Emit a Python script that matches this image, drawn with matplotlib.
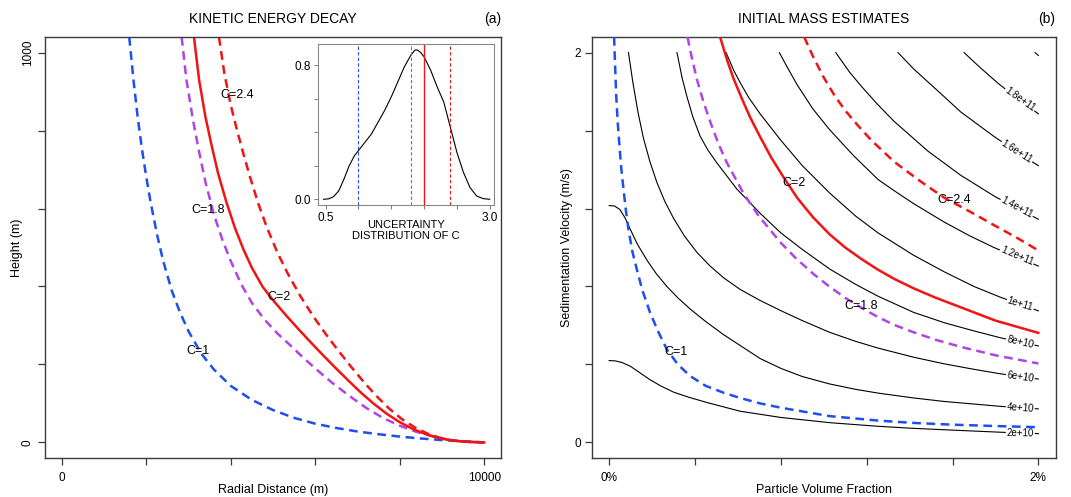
import matplotlib
matplotlib.use("Agg")
import matplotlib.pyplot as plt

plt.rcParams['font.family'] = ['Liberation Sans', 'DejaVu Sans']

# ---------------- data: panel (a) kinetic energy decay ----------------
ke_c1_x = [1595, 1700, 1800, 1900, 2000, 2100, 2250, 2400, 2600, 2800, 3000, 3300, 3600, 4000,
           4500, 5000, 5500, 6000, 6500, 7000, 7500, 8000, 8500, 9000, 9500, 10000]
ke_c1_y = [1040, 925, 830, 750, 680, 617, 535, 465, 390, 333, 285, 228, 187, 145,
           109, 83, 63, 48, 37, 28, 21, 15, 10, 6, 3, 0]
ke_c18_x = [2836, 2950, 3100, 3250, 3400, 3600, 3800, 4000, 4250, 4500, 4800, 5100, 5400, 5700,
            6000, 6400, 6800, 7200, 7600, 8000, 8400, 8800, 9200, 9600, 10000]
ke_c18_y = [1040, 930, 830, 745, 668, 585, 520, 465, 405, 358, 315, 280, 250, 219,
            190, 153, 120, 89, 63, 43, 27, 15, 6, 1.5, 0]
ke_c2_x = [3128, 3250, 3400, 3550, 3700, 3900, 4100, 4300, 4500, 4750, 5000, 5300, 5600, 5900,
           6200, 6500, 6800, 7100, 7400, 7700, 8000, 8300, 8600, 8900, 9200, 9500, 10000]
ke_c2_y = [1040, 930, 835, 760, 690, 615, 550, 495, 448, 400, 365, 327, 291, 256,
           222, 189, 157, 126, 98, 73, 52, 35, 22, 12, 5.5, 2, 0]
ke_c24_x = [3720, 3850, 4000, 4150, 4300, 4450, 4650, 4850, 5100, 5350, 5650, 5950, 6250, 6550,
            6850, 7150, 7450, 7750, 8050, 8350, 8650, 8950, 9250, 9600, 10000]
ke_c24_y = [1040, 945, 865, 800, 740, 683, 613, 553, 488, 433, 375, 324, 278, 235,
            194, 155, 119, 87, 60, 39, 23, 12, 5, 1.5, 0]

# inset: uncertainty distribution of C
dens_c = [0.47, 0.55, 0.62, 0.70, 0.78, 0.86, 0.94, 1.0, 1.1, 1.2, 1.3, 1.4, 1.5, 1.6, 1.7,
          1.8, 1.86, 1.9, 1.95, 2.0, 2.1, 2.2, 2.3, 2.4, 2.5, 2.6, 2.7, 2.8, 2.9, 3.0]
dens_y = [0.0, 0.003, 0.015, 0.05, 0.12, 0.2, 0.26, 0.29, 0.34, 0.39, 0.46, 0.53, 0.61, 0.70, 0.79,
          0.86, 0.89, 0.89, 0.875, 0.85, 0.77, 0.67, 0.58, 0.43, 0.28, 0.16, 0.07, 0.02, 0.004, 0.0]
c_values = [1.0, 1.8, 2.0, 2.4]

# ---------------- data: panel (b) initial mass estimates ----------------
# contour lines (x: particle volume fraction in %, y: sedimentation velocity m/s)
contour_levels = ["2e+10", "4e+10", "6e+10", "8e+10", "1e+11", "1.2e+11", "1.4e+11", "1.6e+11", "1.8e+11", "2e+11"]
cl_2e10_x = [0.0, 0.03, 0.06, 0.10, 0.15, 0.19, 0.24, 0.30, 0.37, 0.455, 0.61, 0.80, 1.03, 1.25, 1.42, 1.6, 1.83, 2.0]
cl_2e10_y = [0.42, 0.418, 0.41, 0.39, 0.352, 0.322, 0.29, 0.258, 0.232, 0.205, 0.160, 0.128, 0.101, 0.083, 0.072, 0.063, 0.052, 0.045]
cl_4e10_x = [0.0, 0.025, 0.05, 0.075, 0.10, 0.13, 0.176, 0.22, 0.269, 0.32, 0.378, 0.45, 0.533, 0.704, 0.80, 0.9,
             1.027, 1.15, 1.253, 1.419, 1.562, 1.823, 2.0]
cl_4e10_y = [1.215, 1.213, 1.195, 1.15, 1.09, 1.02, 0.935, 0.865, 0.80, 0.742, 0.684, 0.62, 0.553, 0.43, 0.38, 0.338,
             0.30, 0.272, 0.253, 0.228, 0.21, 0.185, 0.172]
cl_6e10_x = [0.09, 0.11, 0.135, 0.16, 0.19, 0.222, 0.26, 0.30, 0.35, 0.409, 0.47, 0.533, 0.61, 0.704, 0.80, 0.9,
             1.027, 1.15, 1.253, 1.419, 1.562, 1.7, 1.823, 2.0]
cl_6e10_y = [2.0, 1.85, 1.69, 1.56, 1.44, 1.335, 1.235, 1.15, 1.06, 0.975, 0.905, 0.845, 0.785, 0.728, 0.676, 0.625,
             0.565, 0.518, 0.484, 0.437, 0.403, 0.375, 0.352, 0.325]
cl_8e10_x = [0.316, 0.34, 0.362, 0.39, 0.424, 0.46, 0.502, 0.595, 0.704, 0.80, 0.9, 1.027, 1.15, 1.253, 1.419,
             1.562, 1.7, 1.823, 2.0]
cl_8e10_y = [2.0, 1.87, 1.776, 1.67, 1.571, 1.50, 1.434, 1.30, 1.175, 1.075, 0.99, 0.89, 0.81, 0.75, 0.667,
             0.614, 0.572, 0.537, 0.495]
cl_1e11_x = [0.545, 0.58, 0.611, 0.65, 0.704, 0.80, 0.9, 1.027, 1.15, 1.253, 1.419, 1.562, 1.7, 1.823, 2.0]
cl_1e11_y = [2.0, 1.91, 1.845, 1.77, 1.685, 1.55, 1.42, 1.28, 1.16, 1.075, 0.96, 0.875, 0.80, 0.745, 0.675]
cl_12e11_x = [0.793, 0.83, 0.876, 0.95, 1.027, 1.14, 1.253, 1.33, 1.419, 1.562, 1.68, 1.793, 2.0]
cl_12e11_y = [2.0, 1.925, 1.835, 1.71, 1.605, 1.47, 1.349, 1.29, 1.225, 1.13, 1.06, 1.0, 0.905]
cl_14e11_x = [1.056, 1.12, 1.177, 1.25, 1.33, 1.485, 1.639, 1.80, 2.0]
cl_14e11_y = [2.0, 1.90, 1.825, 1.735, 1.645, 1.495, 1.37, 1.26, 1.145]
cl_16e11_x = [1.346, 1.42, 1.485, 1.56, 1.639, 1.793, 1.9, 2.0]
cl_16e11_y = [2.0, 1.915, 1.85, 1.775, 1.695, 1.57, 1.49, 1.42]
cl_18e11_x = [1.654, 1.731, 1.815, 1.9, 2.0]
cl_18e11_y = [2.0, 1.921, 1.84, 1.766, 1.686]
cl_2e11_x = [1.985, 2.0]
cl_2e11_y = [2.0, 1.985]

# C curves
pm_c1_x = [0.023, 0.028, 0.033, 0.04, 0.048, 0.057, 0.067, 0.078, 0.09, 0.108, 0.129, 0.155, 0.191, 0.23, 0.269,
           0.32, 0.378, 0.45, 0.533, 0.61, 0.704, 0.80, 1.027, 1.253, 1.419, 1.6, 1.8, 2.0]
pm_c1_y = [2.08, 1.92, 1.776, 1.64, 1.52, 1.40, 1.297, 1.19, 1.092, 0.98, 0.887, 0.78, 0.665, 0.565, 0.477,
           0.40, 0.34, 0.29, 0.255, 0.228, 0.2, 0.178, 0.135, 0.112, 0.100, 0.091, 0.084, 0.078]
pm_c18_x = [0.365, 0.385, 0.409, 0.44, 0.471, 0.51, 0.549, 0.626, 0.696, 0.80, 0.87, 0.951, 1.02, 1.102, 1.18,
            1.253, 1.33, 1.419, 1.52, 1.639, 1.8, 2.0]
pm_c18_y = [2.08, 1.975, 1.862, 1.745, 1.645, 1.53, 1.434, 1.278, 1.163, 1.024, 0.945, 0.865, 0.805, 0.74, 0.688,
            0.643, 0.602, 0.565, 0.527, 0.49, 0.447, 0.405]
pm_c2_x = [0.517, 0.55, 0.58, 0.62, 0.657, 0.70, 0.755, 0.81, 0.876, 0.95, 1.027, 1.1, 1.177, 1.25, 1.33,
           1.42, 1.52, 1.639, 1.8, 2.0]
pm_c2_y = [2.08, 1.96, 1.865, 1.76, 1.668, 1.575, 1.462, 1.365, 1.255, 1.155, 1.068, 1.0, 0.94, 0.888, 0.838,
           0.79, 0.743, 0.693, 0.625, 0.562]
pm_c24_x = [0.909, 0.95, 0.996, 1.05, 1.102, 1.16, 1.222, 1.328, 1.45, 1.562, 1.68, 1.793, 1.9, 2.0]
pm_c24_y = [2.08, 1.98, 1.88, 1.78, 1.70, 1.625, 1.55, 1.44, 1.34, 1.255, 1.185, 1.115, 1.05, 0.985]

# ---------------- styling ----------------
BLUE = "#1f4ef0"
PURPLE = "#b044e6"
RED = "#f01414"
BOX = "#3a3a3a"
W, H = 1071, 497

fig = plt.figure(figsize=(W / 100, H / 100), dpi=100)


def px_axes(l, r, t, b):
    return [l / W, 1 - b / H, (r - l) / W, (b - t) / H]


def style_box(ax, color=BOX, lw=1.0):
    for s in ax.spines.values():
        s.set_color(color)
        s.set_linewidth(lw)


dash = (3.5, 2.2)
fs_c = 9

# ---------------- panel (a) ----------------
axa = fig.add_axes(px_axes(45, 501, 37, 458))
axa.set_xlim(-400, 10400)
axa.set_ylim(-40, 1040)
axa.plot(ke_c1_x, ke_c1_y, color=BLUE, lw=1.8, dashes=dash)
axa.plot(ke_c18_x, ke_c18_y, color=PURPLE, lw=1.8, dashes=dash)
axa.plot(ke_c2_x, ke_c2_y, color=RED, lw=1.8)
axa.plot(ke_c24_x, ke_c24_y, color=RED, lw=1.8, dashes=dash)
axa.text(4140, 890, "C=2.4", fontsize=fs_c, ha='center', va='center')
axa.text(3467, 596, "C=1.8", fontsize=fs_c, ha='center', va='center')
axa.text(5150, 374, "C=2", fontsize=fs_c, ha='center', va='center')
axa.text(3231, 234, "C=1", fontsize=fs_c, ha='center', va='center')
axa.set_xticks([0, 2000, 4000, 6000, 8000, 10000])
axa.set_xticklabels(["0", "", "", "", "", "10000"])
axa.set_yticks([0, 200, 400, 600, 800, 1000])
axa.set_yticklabels(["0", "", "", "", "", "1000"])
for lbl in axa.get_yticklabels():
    lbl.set_rotation(90)
    lbl.set_va('center')
axa.tick_params(direction='out', length=5, width=0.9, color=BOX, labelsize=8.5, pad=3)
axa.tick_params(axis='x', pad=5)
axa.set_xlabel("Radial Distance (m)", fontsize=9, labelpad=0)
axa.set_ylabel("Height (m)", fontsize=9, labelpad=-1)
axa.set_title("KINETIC ENERGY DECAY", fontsize=10, pad=10)
axa.text(1.0, 1.033, "(a)", transform=axa.transAxes, ha='right', va='baseline', fontsize=10)
style_box(axa)

# inset
axi = fig.add_axes(px_axes(318, 494, 44, 205))
axi.set_xlim(0.385, 3.065)
axi.set_ylim(-0.034, 0.926)
axi.plot(dens_c, dens_y, color='black', lw=0.8)
axi.axvline(c_values[0], color=BLUE, lw=0.8, dashes=(3, 2))
axi.axvline(c_values[1], color=PURPLE, lw=0.8, dashes=(3, 2))
axi.axvline(c_values[2], color=RED, lw=1.0)
axi.axvline(c_values[3], color=RED, lw=0.8, dashes=(3, 2))
axi.set_xticks([0.5, 1.0, 1.5, 2.0, 2.5, 3.0])
axi.set_xticklabels(["0.5", "", "", "", "", "3.0"])
axi.set_yticks([0.0, 0.2, 0.4, 0.6, 0.8])
axi.set_yticklabels(["0.0", "", "", "", "0.8"])
axi.tick_params(direction='out', length=3, width=0.7, color="#777777", labelsize=8.5, pad=2)
axi.set_xlabel("UNCERTAINTY\nDISTRIBUTION OF C", fontsize=8, labelpad=-3, linespacing=1.15)
style_box(axi, color="#8a8a8a", lw=0.8)

# ---------------- panel (b) ----------------
axb = fig.add_axes(px_axes(592, 1055.5, 37, 458))
axb.set_xlim(-0.08, 2.08)
axb.set_ylim(-0.08, 2.08)

contours = [
    (cl_2e10_x, cl_2e10_y, contour_levels[0], 1.916, 0.047, -1),
    (cl_4e10_x, cl_4e10_y, contour_levels[1], 1.916, 0.178, -4),
    (cl_6e10_x, cl_6e10_y, contour_levels[2], 1.916, 0.337, -8),
    (cl_8e10_x, cl_8e10_y, contour_levels[3], 1.916, 0.515, -13),
    (cl_1e11_x, cl_1e11_y, contour_levels[4], 1.916, 0.71, -17),
    (cl_12e11_x, cl_12e11_y, contour_levels[5], 1.90, 0.955, -23),
    (cl_14e11_x, cl_14e11_y, contour_levels[6], 1.90, 1.205, -28),
    (cl_16e11_x, cl_16e11_y, contour_levels[7], 1.90, 1.49, -32),
    (cl_18e11_x, cl_18e11_y, contour_levels[8], 1.916, 1.762, -35),
]
for xs, ys, lab, lx, ly, ang in contours:
    axb.plot(xs, ys, color='black', lw=0.8, zorder=2)
    axb.text(lx, ly, lab, fontsize=7, ha='center', va='center', rotation=ang,
             rotation_mode='anchor', zorder=3,
             bbox=dict(facecolor='white', edgecolor='none', pad=0.6))
axb.plot(cl_2e11_x, cl_2e11_y, color='black', lw=0.8, zorder=2)

axb.plot(pm_c1_x, pm_c1_y, color=BLUE, lw=1.8, dashes=dash, zorder=4)
axb.plot(pm_c18_x, pm_c18_y, color=PURPLE, lw=1.8, dashes=dash, zorder=4)
axb.plot(pm_c2_x, pm_c2_y, color=RED, lw=1.8, zorder=4)
axb.plot(pm_c24_x, pm_c24_y, color=RED, lw=1.8, dashes=dash, zorder=4)
axb.text(0.86, 1.33, "C=2", fontsize=fs_c, ha='center', va='center', zorder=5)
axb.text(1.175, 0.70, "C=1.8", fontsize=fs_c, ha='center', va='center', zorder=5)
axb.text(1.61, 1.246, "C=2.4", fontsize=fs_c, ha='center', va='center', zorder=5)
axb.text(0.31, 0.463, "C=1", fontsize=fs_c, ha='center', va='center', zorder=5)

axb.set_xticks([0, 0.4, 0.8, 1.2, 1.6, 2.0])
axb.set_xticklabels(["0%", "", "", "", "", "2%"])
axb.set_yticks([0, 0.4, 0.8, 1.2, 1.6, 2.0])
axb.set_yticklabels(["0", "", "", "", "", "2"])
axb.tick_params(direction='out', length=5, width=0.9, color=BOX, labelsize=8.5, pad=3)
axb.tick_params(axis='x', pad=5)
axb.set_xlabel("Particle Volume Fraction", fontsize=9, labelpad=0)
axb.set_ylabel("Sedimentation Velocity (m/s)", fontsize=9, labelpad=1)
axb.set_title("INITIAL MASS ESTIMATES", fontsize=10, pad=10)
axb.text(1.0, 1.033, "(b)", transform=axb.transAxes, ha='right', va='baseline', fontsize=10)
style_box(axb)

fig.savefig("out.png", dpi=100)
